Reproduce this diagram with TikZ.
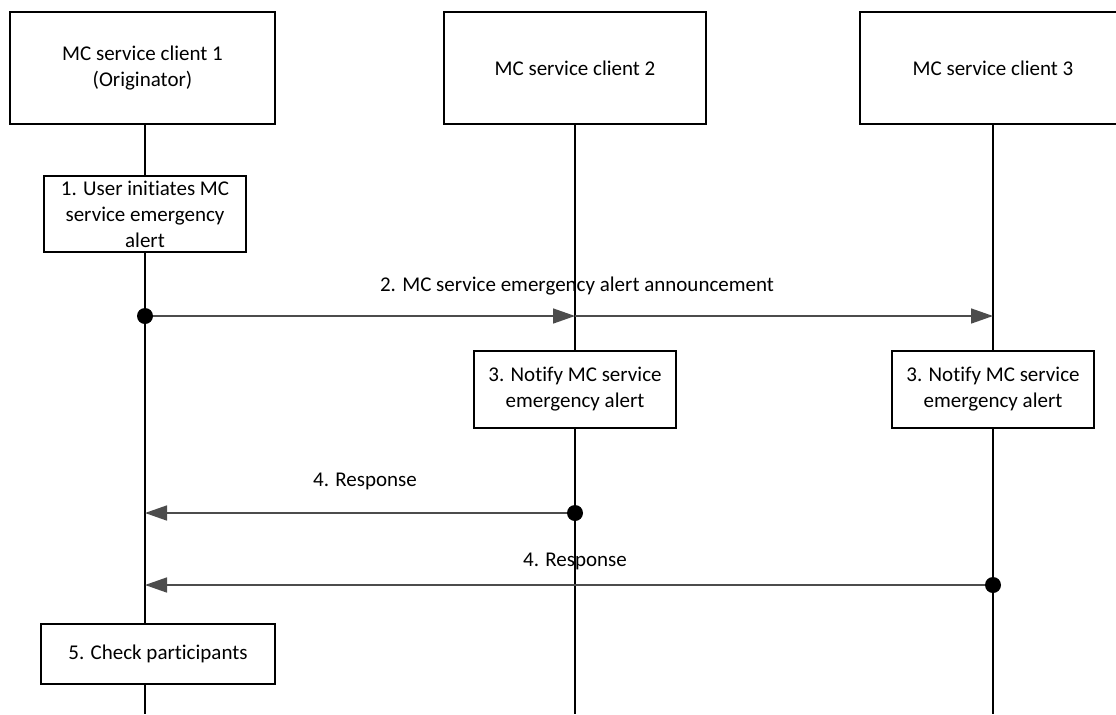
\documentclass[tikz,border=0pt]{standalone}
\usepackage{fontspec}
\setmainfont{Carlito}[Ligatures=CommonOff]
\usetikzlibrary{arrows.meta}

\tikzset{
  head/.style={draw,line width=.8pt,fill=white,align=center,minimum height=56pt,inner sep=0pt},
  stepbox/.style={draw,line width=.8pt,fill=white,align=center,inner sep=0pt},
  life/.style={line width=.7pt},
  msg/.style={line width=.8pt,black!70,-{Triangle[length=11pt,width=7.5pt]}},
  lbl/.style={inner sep=1pt}
}

\begin{document}
\begin{tikzpicture}[x=.5pt,y=-.5pt,font=\fontsize{10.5}{13}\selectfont]
  \useasboundingbox (0,0) rectangle (1116,714);
  % lifelines heads
  \node[head,minimum width=132.5pt] (c1) at (142.5,68) {MC service client 1\\(Originator)};
  \node[head,minimum width=131pt] (c2) at (575,68) {MC service client 2};
  \node[head,minimum width=133pt] (c3) at (993,68) {MC service client 3};
  % steps
  \node[stepbox,minimum width=101pt,minimum height=38pt] (s1) at (145,214) {1. User initiates MC\\service emergency\\alert};
  \node[stepbox,minimum width=101pt,minimum height=38.5pt] (s3a) at (575,389.5) {3. Notify MC service\\emergency alert};
  \node[stepbox,minimum width=101pt,minimum height=38.5pt] (s3b) at (993,389.5) {3. Notify MC service\\emergency alert};
  \node[stepbox,minimum width=117pt,minimum height=30pt] (s5) at (158,654) {5. Check participants};
  \coordinate (e1) at (145,714);
  \coordinate (e2) at (575,714);
  \coordinate (e3) at (993,714);
  \draw[life] (c1.south -| e1) -- (s1.north) (s1.south) -- (s5.north -| e1) (s5.south -| e1) -- (e1);
  \draw[life] (c2.south) -- (s3a.north) (s3a.south) -- (e2);
  \draw[life] (c3.south) -- (s3b.north) (s3b.south) -- (e3);
  % messages
  \coordinate (m2a) at (145,316);
  \coordinate (m2b) at (575,316);
  \coordinate (m2c) at (993,316);
  \coordinate (m4a) at (575,513);
  \coordinate (m4b) at (145,513);
  \coordinate (m4c) at (993,585);
  \coordinate (m4d) at (145,585);
  \draw[msg] (m2a) -- (m2b);
  \draw[msg] (m2b) -- (m2c);
  \draw[msg] (m4a) -- (m4b);
  \draw[msg] (m4c) -- (m4d);
  \foreach \p in {m2a,m4a,m4c} \fill (\p) circle (4pt);
  \node[lbl] (l2) at (577,286) {2. MC service emergency alert announcement};
  \node[lbl] (l4a) at (365,481) {4. Response};
  \node[lbl] (l4b) at (575,561) {4. Response};
\end{tikzpicture}
\end{document}
